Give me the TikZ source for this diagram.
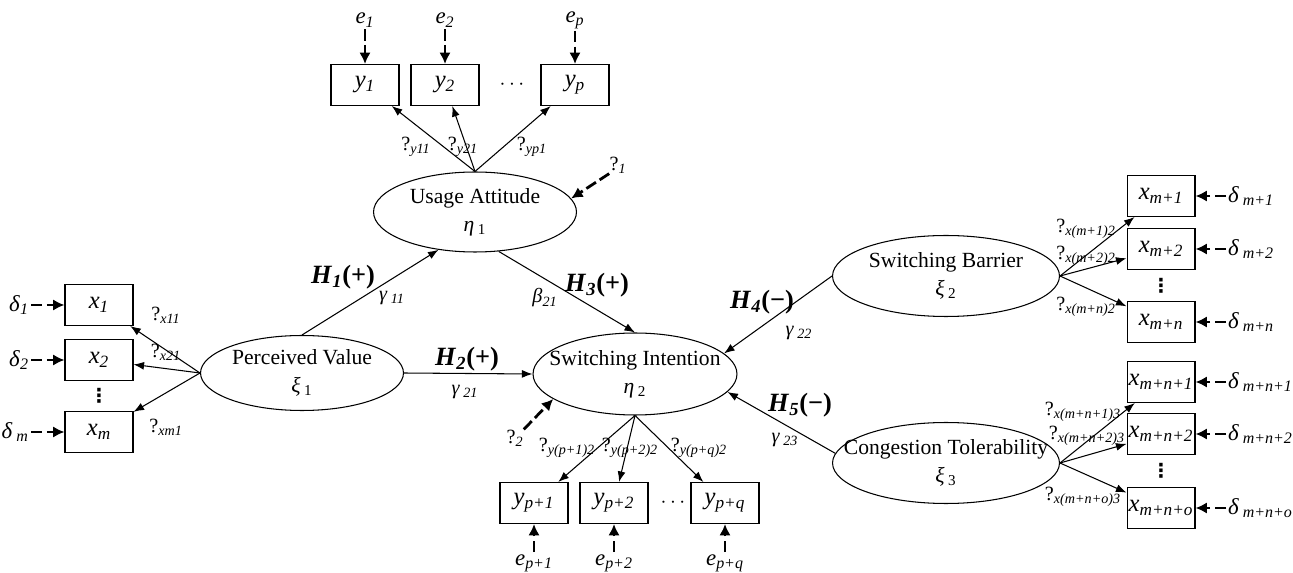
\documentclass[tikz,border=0pt]{standalone}
\usepackage{fontspec}
\setmainfont{Liberation Serif}
\newfontfamily\symfont{DejaVu Sans}
\usetikzlibrary{shapes.geometric,arrows.meta}
\newcommand{\vsub}[2]{\textit{#1}\textsubscript{\textit{#2}}}
\newcommand{\gsub}[2]{\textit{#1}\,\textsubscript{#2}}
\newcommand{\qsub}[1]{?\textsubscript{\textit{#1}}}
\newcommand{\hypo}[2]{\textbf{\textit{H}\textsubscript{\textit{#1}}(#2)}}
\tikzset{
  latent/.style={draw,ellipse,line width=0.6pt,inner sep=0pt},
  lvtext/.style={align=center,font=\fontsize{12.3}{16}\selectfont},
  ind/.style={draw,rectangle,line width=0.6pt,minimum width=1.36cm,minimum height=0.82cm,inner sep=0pt,font=\fontsize{14}{16}\selectfont},
  reg/.style={->,line width=0.6pt},
  err/.style={-{Latex[length=6.5pt,width=6.5pt]},line width=1.6pt,dash pattern=on 6.5pt off 2.5pt},
  errtext/.style={inner sep=1pt,font=\fontsize{13}{15}\selectfont},
  coef/.style={inner sep=0pt,font=\fontsize{11.5}{13}\selectfont},
  hyptext/.style={inner sep=0pt,font=\fontsize{15}{17}\selectfont},
  vdot/.style={inner sep=0pt,font=\symfont\fontsize{11}{11}\selectfont\bfseries},
  hdot/.style={inner sep=0pt,font=\fontsize{12}{12}\selectfont}
}
\begin{document}
\begin{tikzpicture}[x=0.02cm,y=-0.02cm,>={Latex[length=6pt,width=4.5pt]}]
  \useasboundingbox (0,0) rectangle (1293,573);
  % latent variables
  \node[latent,minimum width=4.06cm,minimum height=1.5cm,label={[lvtext]center:{Perceived Value\\\gsub{ξ}{1}}}] (pv) at (302,373) {};
  \node[latent,minimum width=4.06cm,minimum height=1.6cm,label={[lvtext]center:{Usage Attitude\\\gsub{η}{1}}}] (ua) at (475,212) {};
  \node[latent,minimum width=4.08cm,minimum height=1.64cm,label={[lvtext]center:{Switching Intention\\\gsub{η}{2}}}] (si) at (635,374) {};
  \node[latent,minimum width=4.54cm,minimum height=1.62cm,label={[lvtext]center:{Switching Barrier\\\gsub{ξ}{2}}}] (sb) at (946,276) {};
  \node[latent,minimum width=4.54cm,minimum height=1.62cm,label={[lvtext]center:{Congestion Tolerability\\\gsub{ξ}{3}}}] (ct) at (946,463) {};
  % indicators of perceived value
  \node[ind] (x1) at (99,305) {\vsub{x}{1}};
  \node[ind] (x2) at (99,360) {\vsub{x}{2}};
  \node[ind] (xm) at (99,432) {\vsub{x}{m}};
  \node[vdot] (xdots) at (99,396) {⋮};
  \node[errtext,anchor=east] (d1) at (31,305) {\vsub{δ}{1}};
  \node[errtext,anchor=east] (d2) at (31,360) {\vsub{δ}{2}};
  \node[errtext,anchor=east] (dm) at (31,432) {\gsub{δ}{\textit{m}}};
  \draw[err] (d1) -- (x1);
  \draw[err] (d2) -- (x2);
  \draw[err] (dm) -- (xm);
  \draw[reg] (pv.west) -- (x1);
  \draw[reg] (pv.west) -- (x2);
  \draw[reg] (pv.west) -- (xm);
  \node[coef] (lx11) at (166,315) {\qsub{x11}};
  \node[coef] (lx21) at (166,352) {\qsub{x21}};
  \node[coef] (lxm1) at (166,427) {\qsub{xm1}};
  % indicators of usage attitude
  \node[ind] (y1) at (365,85) {\vsub{y}{1}};
  \node[ind] (y2) at (445,85) {\vsub{y}{2}};
  \node[ind] (yp) at (575,85) {\vsub{y}{p}};
  \node[hdot] (ydots) at (512,85) {$\cdots$};
  \node[errtext] (e1) at (365,20) {\vsub{e}{1}};
  \node[errtext] (e2) at (445,20) {\vsub{e}{2}};
  \node[errtext] (ep) at (575,20) {\vsub{e}{p}};
  \draw[err] (e1) -- (y1);
  \draw[err] (e2) -- (y2);
  \draw[err] (ep) -- (yp);
  \draw[reg] (ua.north) -- (y1);
  \draw[reg] (ua.north) -- (y2);
  \draw[reg] (ua.north) -- (yp);
  \node[coef] (ly11) at (416,147) {\qsub{y11}};
  \node[coef] (ly21) at (463,147) {\qsub{y21}};
  \node[coef] (lyp1) at (532,147) {\qsub{yp1}};
  \node[coef] (z1) at (618,165) {\qsub{1}};
  \draw[err] (z1.south west) -- (ua.8);
  % indicators of switching intention
  \node[ind] (yp1) at (534,503) {\vsub{y}{p+1}};
  \node[ind] (yp2) at (614,503) {\vsub{y}{p+2}};
  \node[ind] (ypq) at (725,503) {\vsub{y}{p+q}};
  \node[hdot] (ydots2) at (673,503) {$\cdots$};
  \node[errtext] (ep1) at (534,563) {\vsub{e}{p+1}};
  \node[errtext] (ep2) at (614,563) {\vsub{e}{p+2}};
  \node[errtext] (epq) at (725,563) {\vsub{e}{p+q}};
  \draw[err] (ep1) -- (yp1);
  \draw[err] (ep2) -- (yp2);
  \draw[err] (epq) -- (ypq);
  \draw[reg] (si.south) -- (yp1);
  \draw[reg] (si.south) -- (yp2);
  \draw[reg] (si.south) -- (ypq);
  \node[coef] (lyp12) at (567,448) {\qsub{y(p+1)2}};
  \node[coef] (lyp22) at (630,448) {\qsub{y(p+2)2}};
  \node[coef] (lypq2) at (699,448) {\qsub{y(p+q)2}};
  \node[coef] (z2) at (515,438) {\qsub{2}};
  \draw[err] (z2.north east) -- (si.197);
  % indicators of switching barrier
  \node[ind] (xm1) at (1161,196) {\vsub{x}{m+1}};
  \node[ind] (xm2) at (1161,249) {\vsub{x}{m+2}};
  \node[ind] (xmn) at (1161,322) {\vsub{x}{m+n}};
  \node[vdot] (xdots2) at (1161,286) {⋮};
  \node[errtext,anchor=west] (dm1) at (1226,196) {\gsub{δ}{\textit{m+1}}};
  \node[errtext,anchor=west] (dm2) at (1226,249) {\gsub{δ}{\textit{m+2}}};
  \node[errtext,anchor=west] (dmn) at (1226,322) {\gsub{δ}{\textit{m+n}}};
  \draw[err] (dm1) -- (xm1);
  \draw[err] (dm2) -- (xm2);
  \draw[err] (dmn) -- (xmn);
  \draw[reg] (sb.east) -- (xm1);
  \draw[reg] (sb.east) -- (xm2);
  \draw[reg] (sb.east) -- (xmn);
  \node[coef] (lxm12) at (1086,229) {\qsub{x(m+1)2}};
  \node[coef] (lxm22) at (1086,256) {\qsub{x(m+2)2}};
  \node[coef] (lxmn2) at (1086,307) {\qsub{x(m+n)2}};
  % indicators of congestion tolerability
  \node[ind] (xmn1) at (1161,382) {\vsub{x}{m+n+1}};
  \node[ind] (xmn2) at (1161,434) {\vsub{x}{m+n+2}};
  \node[ind] (xmno) at (1161,508) {\vsub{x}{m+n+o}};
  \node[vdot] (xdots3) at (1161,471) {⋮};
  \node[errtext,anchor=west] (dmn1) at (1226,382) {\gsub{δ}{\textit{m+n+1}}};
  \node[errtext,anchor=west] (dmn2) at (1226,434) {\gsub{δ}{\textit{m+n+2}}};
  \node[errtext,anchor=west] (dmno) at (1226,508) {\gsub{δ}{\textit{m+n+o}}};
  \draw[err] (dmn1) -- (xmn1);
  \draw[err] (dmn2) -- (xmn2);
  \draw[err] (dmno) -- (xmno);
  \draw[reg] (ct.east) -- (xmn1);
  \draw[reg] (ct.east) -- (xmn2);
  \draw[reg] (ct.east) -- (xmno);
  \node[coef] (lxmn13) at (1083,412) {\qsub{x(m+n+1)3}};
  \node[coef] (lxmn23) at (1087,436) {\qsub{x(m+n+2)3}};
  \node[coef] (lxmno3) at (1083,497) {\qsub{x(m+n+o)3}};
  % structural paths
  \draw[reg] (pv.north) -- (ua.226);
  \draw[reg] (pv.east) -- (si.west);
  \draw[reg] (ua.301) -- (si.north);
  \draw[reg] (sb.west) -- (si.13);
  \draw[reg] (ct.175) -- (si.349);
  \node[hyptext] (h1) at (343,277) {\hypo{1}{+}};
  \node[hyptext] (h2) at (467,359) {\hypo{2}{+}};
  \node[hyptext] (h3) at (597,285) {\hypo{3}{+}};
  \node[hyptext] (h4) at (762,302) {\hypo{4}{−}};
  \node[hyptext] (h5) at (800,405) {\hypo{5}{−}};
  \node[coef] (g11) at (392,298) {\gsub{γ}{\textit{11}}};
  \node[coef] (b21) at (545,298) {\vsub{β}{21}};
  \node[coef] (g21) at (465,392) {\gsub{γ}{\textit{21}}};
  \node[coef] (g22) at (799,333) {\gsub{γ}{\textit{22}}};
  \node[coef] (g23) at (785,440) {\gsub{γ}{\textit{23}}};
\end{tikzpicture}
\end{document}
